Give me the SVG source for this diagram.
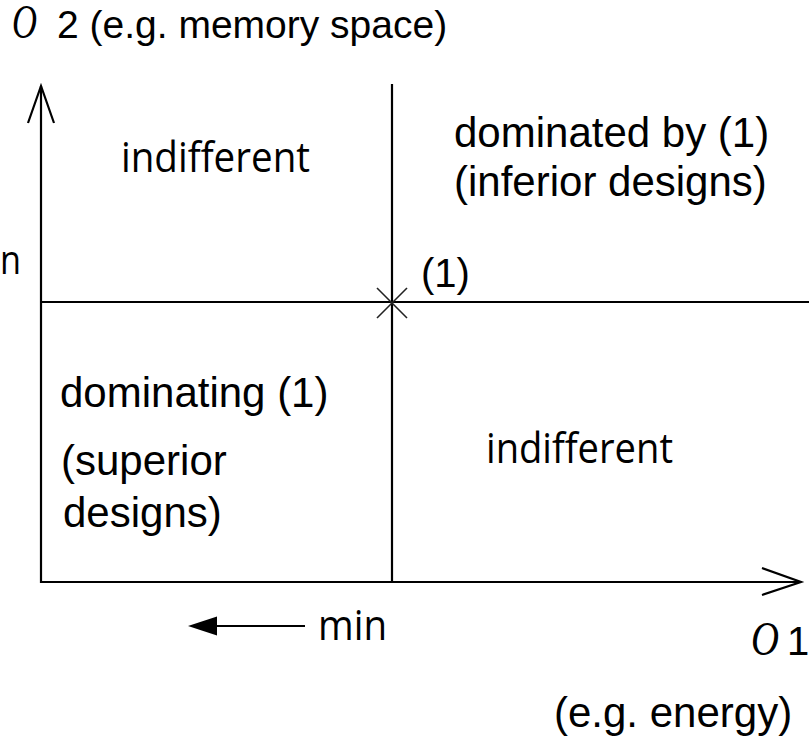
<svg xmlns="http://www.w3.org/2000/svg" width="809" height="737" viewBox="0 0 809 737">
  <style>
    .ax { stroke: #000; stroke-width: 2.2; fill: none; }
    .thin { stroke: #222; stroke-width: 1.6; fill: none; }
    .lbl { font-family: "Liberation Sans", Arial, sans-serif; font-size: 42px; fill: #000; }
    .lbl2 { font-family: "Open Sans", "Noto Sans", sans-serif; font-size: 42px; fill: #000; }
    .sym { font-family: "Liberation Serif", "Times New Roman", serif; font-style: italic; font-size: 48px; fill: #000; }
  </style>

  <!-- axes, quadrant dividers and arrowheads -->
  <g id="connectors">
    <line class="ax" x1="41" y1="86" x2="41" y2="583"/>
    <line class="ax" x1="40" y1="582" x2="801" y2="582"/>
    <line class="ax" x1="392" y1="84" x2="392" y2="582"/>
    <line class="ax" x1="41" y1="302" x2="809" y2="302"/>
    <polyline class="ax" points="28,123 41,86 54,123"/>
    <polyline class="ax" points="762,568 801,582 762,595"/>
    <!-- reference point (1) -->
    <line class="thin" x1="377" y1="288" x2="407" y2="318"/>
    <line class="thin" x1="407" y1="288" x2="377" y2="318"/>
    <!-- minimisation direction -->
    <line class="ax" x1="212" y1="626" x2="305" y2="626"/>
    <polygon points="188,626 217,616.5 217,635.5" fill="#000"/>
  </g>

  <g id="axis-o2">
    <text class="sym" x="12" y="38" textLength="25" lengthAdjust="spacingAndGlyphs">O</text>
    <text class="lbl" x="57" y="38" style="font-size:39px">2 (e.g. memory space)</text>
  </g>

  <g id="axis-o1">
    <text class="sym" x="751" y="655" textLength="28" lengthAdjust="spacingAndGlyphs">O</text>
    <text class="lbl" x="787" y="655" style="font-size:40px">1</text>
    <text class="lbl" x="554" y="727">(e.g. energy)</text>
  </g>

  <g id="label-n">
    <text class="lbl2" x="0" y="274" style="font-size:40px" textLength="21" lengthAdjust="spacingAndGlyphs">n</text>
  </g>

  <g id="label-min">
    <text class="lbl2" x="318" y="640" textLength="69" lengthAdjust="spacingAndGlyphs">min</text>
  </g>

  <g id="point-1">
    <text class="lbl" x="421" y="287" style="font-size:40px">(1)</text>
  </g>

  <g id="quadrant-upper-left">
    <text class="lbl2" x="121" y="172" textLength="189" lengthAdjust="spacingAndGlyphs">indifferent</text>
  </g>

  <g id="quadrant-upper-right">
    <text class="lbl" x="454" y="147">dominated by (1)</text>
    <text class="lbl" x="454" y="196">(inferior designs)</text>
  </g>

  <g id="quadrant-lower-left">
    <text class="lbl" x="60" y="407">dominating (1)</text>
    <text class="lbl" x="61" y="475">(superior</text>
    <text class="lbl" x="63" y="527">designs)</text>
  </g>

  <g id="quadrant-lower-right">
    <text class="lbl2" x="486" y="463" textLength="187" lengthAdjust="spacingAndGlyphs">indifferent</text>
  </g>
</svg>
